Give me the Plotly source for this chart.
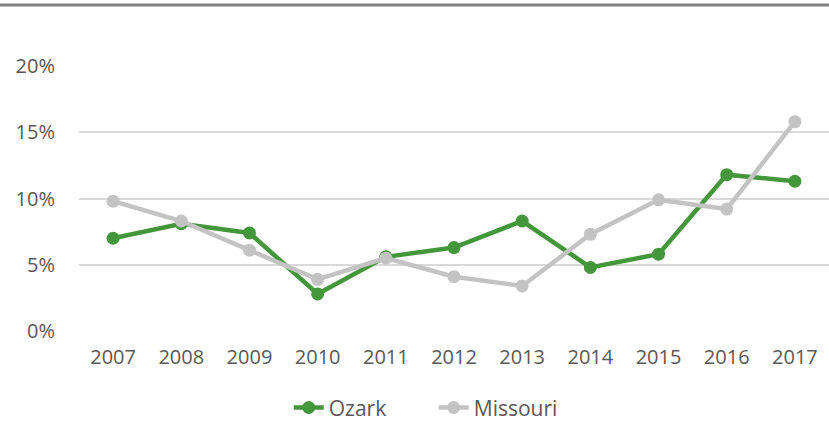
import plotly.graph_objects as go

years = ["2007", "2008", "2009", "2010", "2011", "2012", "2013", "2014", "2015", "2016", "2017"]
ozark = [7.0, 8.1, 7.4, 2.8, 5.6, 6.3, 8.3, 4.8, 5.8, 11.8, 11.3]
missouri = [9.8, 8.3, 6.1, 3.9, 5.5, 4.1, 3.4, 7.3, 9.9, 9.2, 15.8]
y_ticks = [0, 5, 10, 15, 20]
y_tick_labels = ["0%", "5%", "10%", "15%", "20%"]

green = "#43963a"
grey = "#c3c3c3"
font_family = "'Open Sans', sans-serif"
text_color = "#595959"

fig = go.Figure()
fig.add_trace(go.Scatter(x=years, y=ozark, name="Ozark", mode="lines+markers",
                         line=dict(color=green, width=4.5),
                         marker=dict(color=green, size=13)))
fig.add_trace(go.Scatter(x=years, y=missouri, name="Missouri", mode="lines+markers",
                         line=dict(color=grey, width=4.5),
                         marker=dict(color=grey, size=13)))

fig.update_layout(
    width=829, height=421,
    margin=dict(l=79, r=0, t=66, b=90, autoexpand=False),
    plot_bgcolor="white", paper_bgcolor="white",
    font=dict(family=font_family, size=20, color=text_color),
    showlegend=True,
    legend=dict(orientation="h", x=0.473, xanchor="center", y=-0.29, yanchor="middle",
                font=dict(size=21, color=text_color), traceorder="normal",
                entrywidth=100, entrywidthmode="pixels"),
    xaxis=dict(type="category", range=[-0.5, 10.5], showgrid=False, showline=False,
               zeroline=False, ticks="", automargin=False, ticklabelstandoff=12,
               tickfont=dict(size=20, color=text_color)),
    yaxis=dict(range=[0, 20], tickvals=y_ticks, ticktext=y_tick_labels,
               showgrid=True, gridcolor="#d9d9d9", gridwidth=1.5,
               zeroline=False, showline=False, ticks="", automargin=False,
               ticklabelstandoff=23,
               tickfont=dict(size=20, color=text_color)),
    shapes=[dict(type="line", xref="paper", yref="paper", x0=-0.2, x1=1.0,
                 y0=1.2305, y1=1.2305, line=dict(color="#808080", width=3))],
)

fig.write_html("out.html", config={"displayModeBar": False},
               post_script="document.body.style.margin='0px';document.body.style.overflow='hidden';")
